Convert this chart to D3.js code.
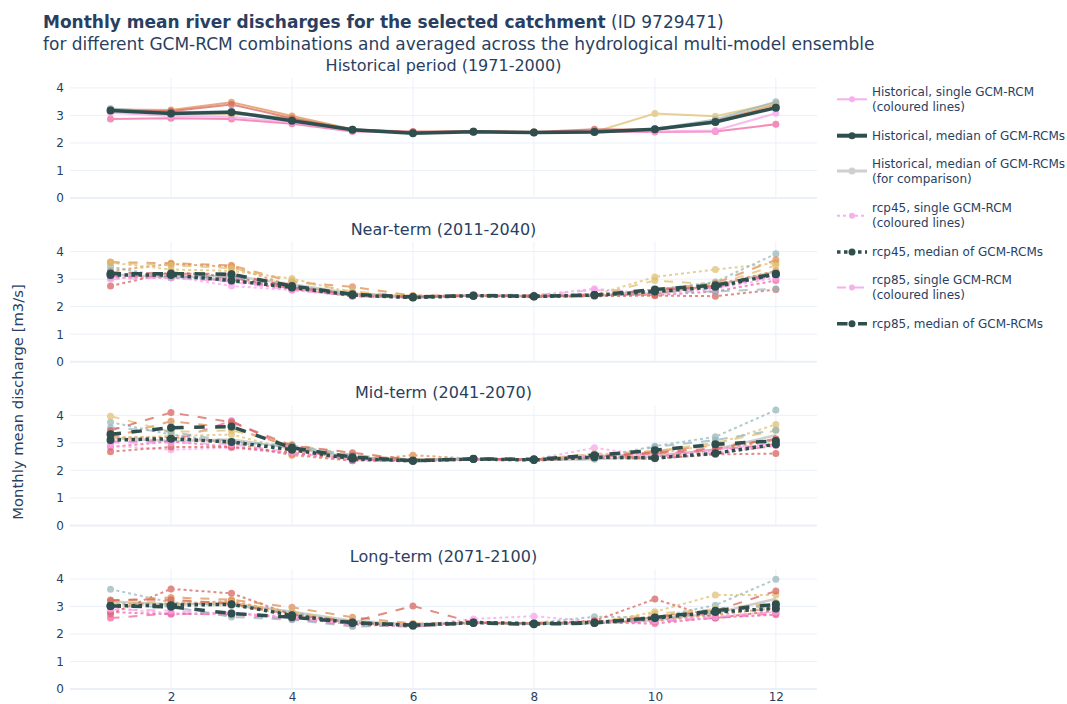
<!DOCTYPE html>
<html>
<head>
<meta charset="utf-8">
<script src="https://cdn.jsdelivr.net/npm/d3@7"></script>
<style>
  body { margin: 0; background: #fff; }
  svg { display: block; font-family: 'DejaVu Sans', Verdana, sans-serif; }
</style>
</head>
<body>
<svg id="chart" width="1067" height="704"></svg>
<script>
// ---- data -------------------------------------------------------------
const months = [1, 2, 3, 4, 5, 6, 7, 8, 9, 10, 11, 12];
const xTickValues = [2, 4, 6, 8, 10, 12];
const yTickValues = [0, 1, 2, 3, 4];

// one colour per GCM-RCM combination
const modelColors = ["#f0639b", "#f7a3ec", "#e08a4e", "#e0c070", "#96b6ba", "#d7605a"];

const panelTitles = [
  "Historical period (1971-2000)",
  "Near-term (2011-2040)",
  "Mid-term (2041-2070)",
  "Long-term (2071-2100)"
];

// Historical period, single GCM-RCMs
const histSingle = [
  [2.87, 2.90, 2.87, 2.70, 2.42, 2.40, 2.40, 2.37, 2.42, 2.40, 2.42, 2.68],
  [3.10, 2.98, 2.95, 2.74, 2.45, 2.38, 2.42, 2.38, 2.45, 2.42, 2.45, 3.08],
  [3.22, 3.20, 3.48, 2.98, 2.50, 2.38, 2.42, 2.40, 2.42, 2.50, 2.80, 3.40],
  [3.20, 3.10, 3.05, 2.92, 2.48, 2.36, 2.40, 2.40, 2.40, 3.07, 2.97, 3.45],
  [3.25, 3.12, 3.15, 2.85, 2.50, 2.37, 2.42, 2.38, 2.40, 2.52, 2.85, 3.50],
  [3.18, 3.15, 3.40, 2.90, 2.48, 2.42, 2.43, 2.40, 2.50, 2.48, 2.75, 3.30]
];
const histMedian = [3.18, 3.07, 3.12, 2.81, 2.48, 2.35, 2.41, 2.38, 2.40, 2.50, 2.76, 3.28];

// Near-term (2011-2040)
const near45 = [
  [3.05, 3.05, 2.95, 2.62, 2.40, 2.33, 2.40, 2.37, 2.45, 2.42, 2.55, 2.95],
  [3.05, 3.10, 2.75, 2.60, 2.40, 2.35, 2.42, 2.40, 2.65, 2.45, 2.65, 3.05],
  [3.30, 3.55, 3.45, 2.75, 2.45, 2.40, 2.40, 2.38, 2.40, 2.45, 2.80, 3.30],
  [3.60, 3.35, 3.30, 3.02, 2.50, 2.38, 2.40, 2.38, 2.42, 3.08, 3.35, 3.58],
  [3.45, 3.05, 3.00, 2.70, 2.45, 2.35, 2.40, 2.38, 2.40, 2.60, 2.90, 3.92],
  [2.75, 3.25, 3.10, 2.65, 2.38, 2.32, 2.40, 2.35, 2.38, 2.40, 2.38, 2.62]
];
const near45Median = [3.15, 3.15, 2.95, 2.70, 2.42, 2.33, 2.40, 2.37, 2.42, 2.55, 2.72, 3.18];
const near85 = [
  [3.10, 3.10, 3.05, 2.65, 2.40, 2.35, 2.40, 2.38, 2.45, 2.55, 2.70, 3.15],
  [3.00, 3.05, 2.90, 2.60, 2.40, 2.35, 2.45, 2.42, 2.60, 2.55, 2.70, 3.10],
  [3.62, 3.58, 3.50, 2.90, 2.72, 2.40, 2.42, 2.40, 2.40, 2.62, 2.85, 3.70],
  [3.60, 3.50, 3.40, 2.95, 2.55, 2.38, 2.40, 2.38, 2.40, 2.95, 2.80, 3.50],
  [3.25, 3.10, 3.10, 2.75, 2.45, 2.35, 2.40, 2.38, 2.40, 2.55, 2.55, 2.65],
  [3.25, 3.20, 3.20, 2.70, 2.45, 2.35, 2.40, 2.38, 2.40, 2.60, 2.75, 3.20]
];
const near85Median = [3.20, 3.20, 3.18, 2.75, 2.45, 2.35, 2.40, 2.38, 2.42, 2.62, 2.78, 3.20];

// Mid-term (2041-2070)
const mid45 = [
  [2.85, 3.05, 2.85, 2.60, 2.35, 2.33, 2.40, 2.38, 2.55, 2.45, 2.60, 2.90],
  [2.90, 2.75, 2.82, 2.62, 2.38, 2.35, 2.42, 2.40, 2.82, 2.50, 2.65, 2.95],
  [3.20, 3.20, 3.00, 2.55, 2.35, 2.55, 2.42, 2.38, 2.50, 2.50, 2.75, 3.10],
  [3.15, 3.25, 3.30, 2.75, 2.40, 2.38, 2.40, 2.38, 2.60, 2.60, 2.95, 3.67],
  [3.75, 3.30, 3.00, 2.85, 2.50, 2.38, 2.42, 2.40, 2.45, 2.88, 3.22, 4.19],
  [2.68, 2.85, 2.85, 2.65, 2.38, 2.35, 2.40, 2.36, 2.45, 2.42, 2.58, 2.61]
];
const mid45Median = [3.10, 3.15, 3.03, 2.75, 2.42, 2.35, 2.41, 2.38, 2.48, 2.45, 2.62, 2.95];
const mid85 = [
  [3.05, 3.05, 3.80, 2.75, 2.40, 2.35, 2.40, 2.38, 2.50, 2.60, 2.75, 2.95],
  [3.00, 3.00, 2.95, 2.65, 2.38, 2.35, 2.42, 2.40, 2.55, 2.55, 2.75, 3.00],
  [3.20, 3.78, 3.55, 2.85, 2.50, 2.40, 2.42, 2.40, 2.52, 2.70, 2.90, 3.10],
  [3.97, 3.40, 3.45, 2.95, 2.55, 2.40, 2.42, 2.40, 2.60, 2.70, 3.00, 3.45],
  [3.55, 3.40, 3.05, 2.90, 2.55, 2.38, 2.42, 2.40, 2.40, 2.85, 3.10, 3.47],
  [3.45, 4.10, 3.75, 2.90, 2.64, 2.38, 2.42, 2.40, 2.50, 2.65, 2.80, 3.15]
];
const mid85Median = [3.31, 3.55, 3.59, 2.82, 2.48, 2.35, 2.42, 2.40, 2.55, 2.73, 2.95, 3.07];

// Long-term (2071-2100)
const long45 = [
  [2.80, 2.72, 2.75, 2.60, 2.35, 2.27, 2.40, 2.38, 2.42, 2.38, 2.60, 2.70],
  [2.95, 2.75, 2.78, 2.62, 2.38, 2.30, 2.55, 2.65, 2.45, 2.45, 2.65, 2.80],
  [3.10, 3.10, 3.20, 2.75, 2.42, 2.35, 2.40, 2.38, 2.40, 2.50, 2.70, 2.95],
  [3.05, 3.05, 3.05, 2.70, 2.40, 2.33, 2.40, 2.38, 2.40, 2.81, 3.42, 3.42],
  [3.63, 3.15, 3.05, 2.80, 2.40, 2.35, 2.42, 2.40, 2.63, 2.60, 3.05, 3.99],
  [2.73, 3.64, 3.48, 2.70, 2.40, 2.33, 2.42, 2.38, 2.48, 3.27, 2.58, 2.85]
];
const long45Median = [3.02, 3.05, 3.08, 2.68, 2.40, 2.32, 2.42, 2.38, 2.42, 2.58, 2.80, 2.93];
const long85 = [
  [2.58, 2.75, 2.70, 2.55, 2.32, 2.27, 2.45, 2.38, 2.40, 2.45, 2.58, 2.75],
  [2.90, 2.85, 2.75, 2.58, 2.35, 2.30, 2.42, 2.38, 2.40, 2.48, 2.62, 2.80],
  [3.20, 3.33, 3.25, 2.97, 2.61, 2.38, 2.40, 2.38, 2.45, 2.65, 2.85, 3.10],
  [3.10, 3.20, 3.15, 2.80, 2.45, 2.35, 2.40, 2.38, 2.42, 2.75, 2.90, 3.15],
  [3.00, 3.00, 2.62, 2.52, 2.27, 2.33, 2.40, 2.36, 2.38, 2.55, 2.80, 3.05],
  [3.24, 3.25, 3.10, 2.70, 2.45, 3.02, 2.42, 2.38, 2.45, 2.60, 2.85, 3.56]
];
const long85Median = [3.02, 2.99, 2.75, 2.61, 2.42, 2.32, 2.40, 2.36, 2.40, 2.60, 2.85, 3.08];

const legendLabels = [
  ["Historical, single GCM-RCM", "(coloured lines)"],
  ["Historical, median of GCM-RCMs"],
  ["Historical, median of GCM-RCMs", "(for comparison)"],
  ["rcp45, single GCM-RCM", "(coloured lines)"],
  ["rcp45, median of GCM-RCMs"],
  ["rcp85, single GCM-RCM", "(coloured lines)"],
  ["rcp85, median of GCM-RCMs"]
];

// ---- styling ----------------------------------------------------------
const TEXT = "#2a3f5f";
const GRID = "#ebf0f8";
const MEDIAN = "#2f4f4f";
const COMPARE = "#cfcfcf";
const LEGEND_SINGLE = "#f6b0ee";

const panels = [
  { title: panelTitles[0], compare: false,
    singles: [{ data: histSingle, dash: "solid" }],
    medians: [{ data: histMedian, dash: "solid" }] },
  { title: panelTitles[1], compare: true,
    singles: [{ data: near45, dash: "dot" }, { data: near85, dash: "dash" }],
    medians: [{ data: near45Median, dash: "dot" }, { data: near85Median, dash: "dash" }] },
  { title: panelTitles[2], compare: true,
    singles: [{ data: mid45, dash: "dot" }, { data: mid85, dash: "dash" }],
    medians: [{ data: mid45Median, dash: "dot" }, { data: mid85Median, dash: "dash" }] },
  { title: panelTitles[3], compare: true,
    singles: [{ data: long45, dash: "dot" }, { data: long85, dash: "dash" }],
    medians: [{ data: long45Median, dash: "dot" }, { data: long85Median, dash: "dash" }] }
];

// dash pattern scaled by line width
function dashArray(dash, w) {
  const d = Math.max(w, 3);
  if (dash === "dot") return `${d},${d}`;
  if (dash === "dash") return `${3 * d},${3 * d}`;
  return null;
}

// ---- layout -----------------------------------------------------------
const svg = d3.select("#chart");
const plotLeft = 70, plotRight = 817;
const panelTop0 = 78, panelH = 120, panelStep = 163.7;

const x = d3.scaleLinear().domain([0.33, 12.68]).range([plotLeft, plotRight]);
const line = (y) => d3.line().x((d, i) => x(months[i])).y(d => y(d));

// title
const title = svg.append("text")
  .attr("x", 43).attr("y", 28)
  .attr("font-size", 17).attr("fill", TEXT);
title.append("tspan").attr("font-weight", "bold")
  .text("Monthly mean river discharges for the selected catchment");
title.append("tspan").text(" (ID 9729471)");
svg.append("text")
  .attr("x", 43).attr("y", 50)
  .attr("font-size", 17).attr("fill", TEXT)
  .text("for different GCM-RCM combinations and averaged across the hydrological multi-model ensemble");

// y-axis title
svg.append("text")
  .attr("transform", "translate(23,402) rotate(-90)")
  .attr("text-anchor", "middle")
  .attr("font-size", 14.8).attr("fill", TEXT)
  .text("Monthly mean discharge [m3/s]");

panels.forEach((p, pi) => {
  const top = panelTop0 + pi * panelStep;
  const bottom = top + panelH;
  const y = d3.scaleLinear().domain([0, 4.36]).range([bottom, top]);
  const g = svg.append("g");

  // subplot title
  svg.append("text")
    .attr("x", (plotLeft + plotRight) / 2).attr("y", top - 7)
    .attr("text-anchor", "middle")
    .attr("font-size", 16).attr("fill", TEXT)
    .text(p.title);

  // grid
  g.selectAll(".vgrid").data(xTickValues).join("line")
    .attr("x1", d => x(d)).attr("x2", d => x(d))
    .attr("y1", top).attr("y2", bottom)
    .attr("stroke", GRID).attr("stroke-width", 1);
  g.selectAll(".hgrid").data(yTickValues).join("line")
    .attr("x1", plotLeft).attr("x2", plotRight)
    .attr("y1", d => y(d)).attr("y2", d => y(d))
    .attr("stroke", GRID).attr("stroke-width", d => d === 0 ? 2 : 1);

  // y axis
  const ya = g.append("g")
    .attr("transform", `translate(${plotLeft},0)`)
    .call(d3.axisLeft(y).tickValues(yTickValues).tickSize(0).tickPadding(6).tickFormat(d3.format("d")));
  ya.select(".domain").remove();
  ya.selectAll("text").attr("font-size", 12).attr("fill", TEXT)
    .attr("font-family", "'DejaVu Sans', Verdana, sans-serif");

  // x axis labels on the bottom panel only
  if (pi === panels.length - 1) {
    const xa = g.append("g")
      .attr("transform", `translate(0,${bottom})`)
      .call(d3.axisBottom(x).tickValues(xTickValues).tickSize(0).tickPadding(3).tickFormat(d3.format("d")));
    xa.select(".domain").remove();
    xa.selectAll("text").attr("font-size", 12).attr("fill", TEXT)
      .attr("font-family", "'DejaVu Sans', Verdana, sans-serif");
  }

  // historical median for comparison
  if (p.compare) {
    g.append("path").datum(histMedian)
      .attr("d", line(y)).attr("fill", "none")
      .attr("stroke", COMPARE).attr("stroke-width", 2.5);
  }

  // single GCM-RCM lines
  p.singles.forEach(s => {
    s.data.forEach((vals, mi) => {
      const c = modelColors[mi];
      const sg = g.append("g").attr("opacity", 0.72);
      sg.append("path").datum(vals)
        .attr("d", line(y)).attr("fill", "none")
        .attr("stroke", c).attr("stroke-width", 2)
        .attr("stroke-dasharray", dashArray(s.dash, 2));
      sg.selectAll("circle").data(vals).join("circle")
        .attr("cx", (d, i) => x(months[i])).attr("cy", d => y(d))
        .attr("r", 3.5).attr("fill", c);
    });
  });

  // medians
  p.medians.forEach(m => {
    g.append("path").datum(m.data)
      .attr("d", line(y)).attr("fill", "none")
      .attr("stroke", MEDIAN).attr("stroke-width", 3.5)
      .attr("stroke-dasharray", dashArray(m.dash, 3.5));
    g.append("g").selectAll("circle").data(m.data).join("circle")
      .attr("cx", (d, i) => x(months[i])).attr("cy", d => y(d))
      .attr("r", 4).attr("fill", MEDIAN);
  });
});

// ---- legend -----------------------------------------------------------
const legendStyles = [
  { color: LEGEND_SINGLE, w: 2, dash: "solid", r: 3 },
  { color: MEDIAN, w: 4, dash: "solid", r: 3.5 },
  { color: COMPARE, w: 3, dash: "solid", r: 3.5 },
  { color: LEGEND_SINGLE, w: 2, dash: "dot", r: 3 },
  { color: MEDIAN, w: 3.5, dash: "dot", r: 3.5 },
  { color: LEGEND_SINGLE, w: 2, dash: "dash", r: 3 },
  { color: MEDIAN, w: 3.5, dash: "dash", r: 3.5 }
];
let ly = 99.3;
legendLabels.forEach((lines, i) => {
  const st = legendStyles[i];
  const lg = svg.append("g");
  lg.append("line")
    .attr("x1", 837).attr("x2", 867).attr("y1", ly).attr("y2", ly)
    .attr("stroke", st.color).attr("stroke-width", st.w)
    .attr("stroke-dasharray", dashArray(st.dash, st.w));
  lg.append("circle").attr("cx", 852).attr("cy", ly).attr("r", st.r).attr("fill", st.color);
  const off = lines.length === 2 ? [-7.5, 7.5] : [0];
  lines.forEach((t, k) => {
    lg.append("text")
      .attr("x", 872).attr("y", ly + off[k])
      .attr("dy", "0.35em")
      .attr("font-size", 12).attr("fill", TEXT)
      .text(t);
  });
  const next = legendLabels[i + 1];
  if (next) {
    if (lines.length === 2 && next.length === 2) ly += 44.7;
    else if (lines.length === 2) ly += 36.4;
    else ly += 35.3;
  }
});
</script>
</body>
</html>
